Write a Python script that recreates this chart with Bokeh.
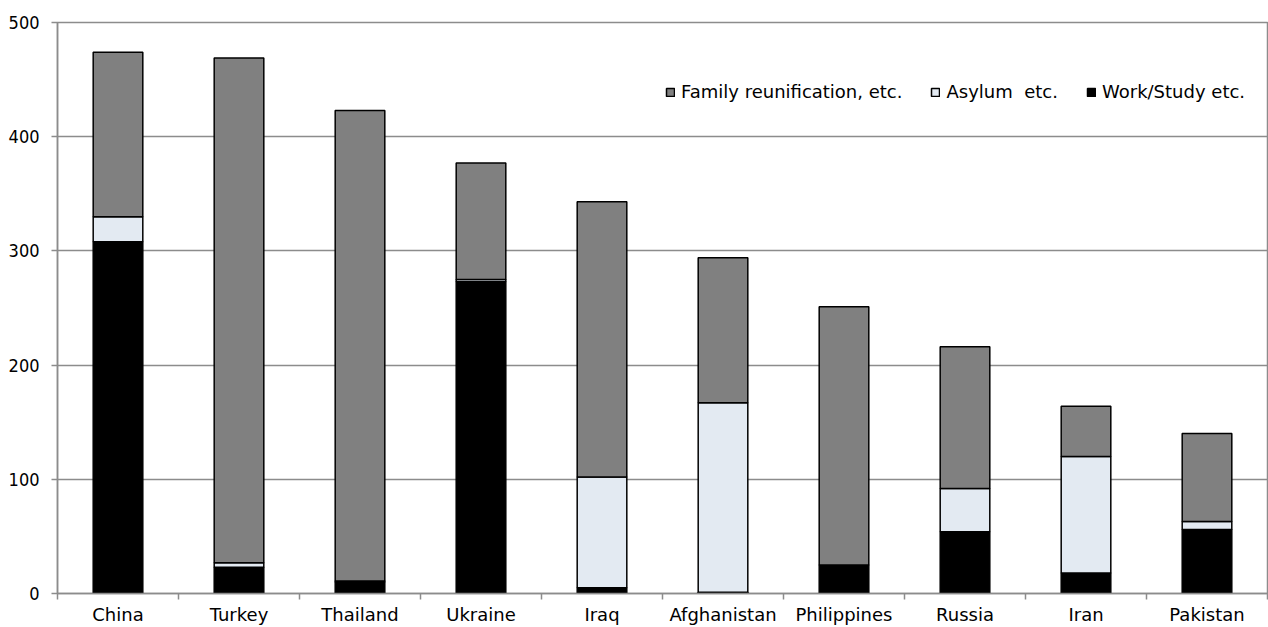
import numpy as np
from bokeh.plotting import figure
from bokeh.models import ColumnDataSource, FixedTicker, Legend, LegendItem, Range1d
from bokeh.embed import file_html
from bokeh.resources import INLINE

countries = ["China", "Turkey", "Thailand", "Ukraine", "Iraq",
             "Afghanistan", "Philippines", "Russia", "Iran", "Pakistan"]
work_study = [308, 23, 10, 273, 5, 1, 25, 54, 18, 56]
asylum = [22, 4, 1, 2, 97, 166, 0, 38, 102, 7]
family = [144, 442, 412, 102, 241, 127, 226, 124, 44, 77]
y_ticks = [0, 100, 200, 300, 400, 500]

series = ["work", "asylum", "family"]
labels = {"family": "Family reunification, etc.", "asylum": "Asylum  etc.", "work": "Work/Study etc."}
colors = {"work": "#000000", "asylum": "#E3EAF2", "family": "#808080"}

xpos = np.arange(len(countries)) + 0.5
src = ColumnDataSource(dict(x=xpos, work=work_study, asylum=asylum, family=family))

FONT = "DejaVu Sans"
FONT_NUM = "DejaVu Sans Condensed, DejaVu Sans"
GRID = "#8C8C8C"

p = figure(width=1268, height=627, output_backend="svg", toolbar_location=None,
           x_range=Range1d(0, len(countries)), y_range=Range1d(0, 500),
           min_border_left=57, min_border_right=1, min_border_top=22, min_border_bottom=34)
p.outline_line_color = GRID
p.outline_line_width = 1.5

rs = p.vbar_stack(series, x="x", width=0.41, source=src,
                  fill_color=[colors[s] for s in series], line_color="#000000", line_width=1.5)
rmap = dict(zip(series, rs))

legend = Legend(items=[LegendItem(label=labels[s], renderers=[rmap[s]]) for s in ["family", "asylum", "work"]],
                orientation="horizontal", location=(608, 491))
legend.label_text_font = FONT
legend.label_text_font_size = "18px"
legend.label_text_color = "#000000"
legend.glyph_width = 10
legend.glyph_height = 10
legend.spacing = 28
legend.label_standoff = 6
legend.padding = 0
legend.margin = 0
legend.background_fill_alpha = 0
legend.border_line_color = None
p.add_layout(legend, "center")

p.xgrid.grid_line_color = None
p.ygrid.grid_line_color = GRID
p.ygrid.grid_line_width = 1.5
p.yaxis.ticker = FixedTicker(ticks=y_ticks)
p.yaxis.minor_tick_line_color = None
p.yaxis.major_tick_out = 6
p.yaxis.major_tick_in = 0
p.yaxis.axis_line_color = GRID
p.yaxis.axis_line_width = 1.5
p.yaxis.major_tick_line_color = GRID
p.yaxis.major_tick_line_width = 1.5
p.yaxis.major_label_text_font = FONT_NUM
p.yaxis.major_label_text_font_size = "18px"
p.yaxis.major_label_text_color = "#000000"
p.yaxis.major_label_standoff = 12

p.xaxis.ticker = FixedTicker(ticks=list(xpos), minor_ticks=list(range(len(countries) + 1)))
p.xaxis.major_label_overrides = {float(x): c for x, c in zip(xpos, countries)}
p.xaxis.major_tick_line_color = None
p.xaxis.major_tick_out = 0
p.xaxis.minor_tick_line_color = GRID
p.xaxis.minor_tick_line_width = 1.5
p.xaxis.minor_tick_out = 6
p.xaxis.minor_tick_in = 0
p.xaxis.axis_line_color = GRID
p.xaxis.axis_line_width = 1.5
p.xaxis.major_label_text_font = FONT
p.xaxis.major_label_text_font_size = "18px"
p.xaxis.major_label_text_color = "#000000"
p.xaxis.major_label_text_line_height = 1.0
p.xaxis.major_label_standoff = 4

open("out.html", "w").write(file_html(p, INLINE))
